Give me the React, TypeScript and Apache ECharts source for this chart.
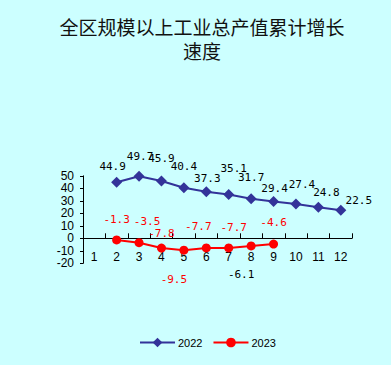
import React, { useEffect, useRef } from "react";
import * as echarts from "echarts";

const months = ["1", "2", "3", "4", "5", "6", "7", "8", "9", "10", "11", "12"];
const values2022 = [null, 44.9, 49.7, 45.9, 40.4, 37.3, 35.1, 31.7, 29.4, 27.4, 24.8, 22.5];
const values2023 = [null, -1.3, -3.5, -7.8, -9.5, -7.7, -7.7, -6.1, -4.6, null, null, null];
const yTicks = { min: -20, max: 50, interval: 10 };
const titleLine1 = "全区规模以上工业总产值累计增长";
const titleLine2 = "速度";

// label placement offsets (style, not data)
const offsets2022: number[][] = [[0, 0], [-4, -16], [1, -20], [0, -22], [0, -21], [1, -13], [5, -26], [0, -21], [1, -13], [6, -20], [8, -15], [18, -10]];
const offsets2023: number[][] = [[0, 0], [0, -20], [8, -21], [0, -15], [-10, 29], [-8, -21], [5, -20], [-10, 29], [0, -22], [0, 0], [0, 0], [0, 0]];
const labelColors2023 = ["#ff0000", "#ff0000", "#ff0000", "#ff0000", "#ff0000", "#ff0000", "#ff0000", "#000000", "#ff0000", "#ff0000", "#ff0000", "#ff0000"];

export default function App() {
  const ref = useRef<HTMLDivElement>(null);
  useEffect(() => {
    const chart = echarts.init(ref.current!, null, { renderer: "svg" });
    const labelFont = { fontFamily: "DejaVu Sans Mono, Liberation Mono, monospace", fontSize: 11 };
    chart.setOption({
      animation: false,
      backgroundColor: "#ccffff",
      graphic: [
        {
          type: "text",
          x: 202,
          y: 14,
          style: {
            text: titleLine1 + "\n" + titleLine2,
            fill: "#111",
            font: "19px 'Noto Sans CJK SC'",
            lineHeight: 24,
            textAlign: "center",
            textVerticalAlign: "top",
            align: "center",
            verticalAlign: "top",
          },
        },
      ],
      grid: { left: 83, right: 39, top: 175.8, bottom: 101.7, containLabel: false },
      legend: {
        data: ["2022", "2023"],
        left: 134,
        top: 332,
        itemWidth: 35,
        itemHeight: 12,
        itemGap: 10,
        textStyle: { fontFamily: "Liberation Sans, Arial", fontSize: 11, color: "#000", padding: [0, 0, 0, -2] },
      },
      xAxis: {
        type: "category",
        data: months,
        boundaryGap: true,
        axisLine: { onZero: true, lineStyle: { color: "#000", width: 1 } },
        axisTick: { show: true, inside: true, length: 5, lineStyle: { color: "#000" } },
        axisLabel: { color: "#000", fontFamily: "Liberation Sans, Arial", fontSize: 12, margin: -12 },
        splitLine: { show: false },
      },
      yAxis: {
        type: "value",
        min: yTicks.min,
        max: yTicks.max,
        interval: yTicks.interval,
        axisLine: { show: true, lineStyle: { color: "#000", width: 1 } },
        axisTick: { show: true, inside: false, length: 3, lineStyle: { color: "#000" } },
        axisLabel: { color: "#000", fontFamily: "Liberation Sans, Arial", fontSize: 12, margin: 9 },
        splitLine: { show: false },
      },
      series: [
        {
          name: "2022",
          type: "line",
          data: values2022.map((v, i) => ({
            value: v,
            label: { offset: offsets2022[i] },
          })),
          symbol: "diamond",
          symbolSize: 11,
          itemStyle: { color: "#333399" },
          lineStyle: { color: "#333399", width: 2 },
          label: { show: true, position: "inside", color: "#000", ...labelFont },
        },
        {
          name: "2023",
          type: "line",
          data: values2023.map((v, i) => ({
            value: v,
            label: { offset: offsets2023[i], color: labelColors2023[i] },
          })),
          symbol: "circle",
          symbolSize: 9,
          itemStyle: { color: "#ff0000" },
          lineStyle: { color: "#ff0000", width: 2 },
          label: { show: true, position: "inside", ...labelFont },
        },
      ],
    });
    return () => chart.dispose();
  }, []);
  return <div ref={ref} style={{ position: "fixed", left: 0, top: 0, width: 391, height: 365 }} />;
}
